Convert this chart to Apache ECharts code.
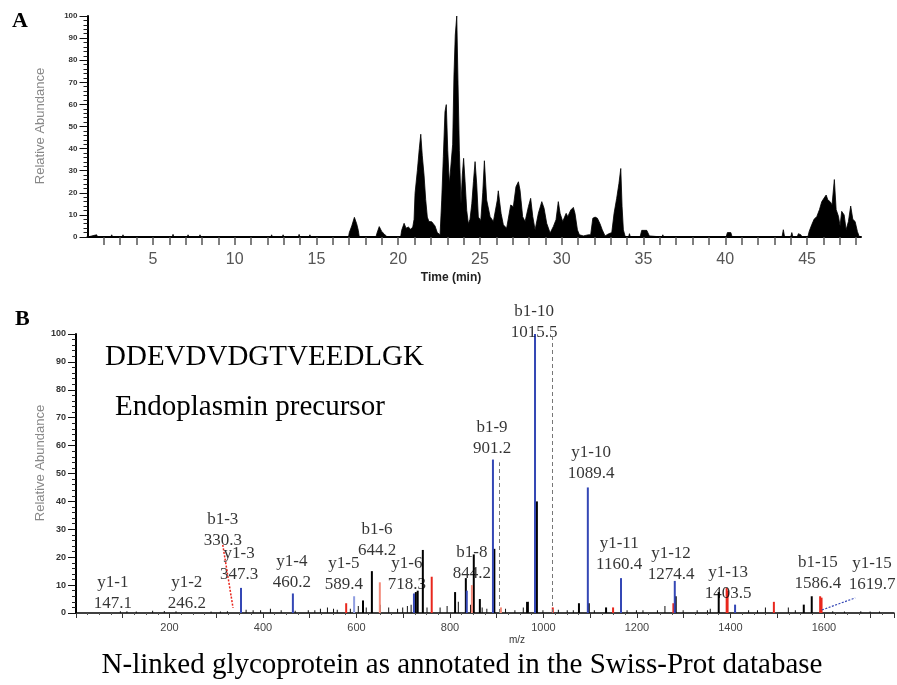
<!DOCTYPE html>
<html lang="en">
<head>
  <meta charset="UTF-8">
  <title>Chromatogram and MS/MS spectrum</title>
  <style>
    * { margin: 0; padding: 0; box-sizing: border-box; }
    body { background: #fff; }
    #main { width: 897px; height: 685px; }
  </style>
</head>
<body>
  <div id="main"></div>
  <script src="https://cdn.jsdelivr.net/npm/echarts@6/dist/echarts.min.js"></script>
  <script>
    // ---- Panel A: base peak chromatogram, [time (min), relative abundance] ----
    const chromatogram = [
      [1.0, 0], [1.56, 1], [1.62, 0], [2.42, 0], [2.48, 1], [2.54, 0], [3.12, 0], [3.17, 1], [3.22, 0],
      [6.18, 0], [6.23, 1.2], [6.28, 0], [7.1, 0], [7.15, 1], [7.2, 0], [7.83, 0], [7.88, 1], [7.93, 0],
      [9.22, 0], [9.27, 0.8], [9.32, 0], [10.22, 0], [10.27, 0.8], [10.32, 0], [10.87, 0], [10.92, 0.8], [10.97, 0],
      [12.21, 0], [12.26, 1], [12.31, 0], [12.91, 0], [12.96, 1], [13.01, 0], [13.89, 0], [13.94, 1.2], [13.99, 0],
      [14.55, 0], [14.6, 1], [14.65, 0],
      [16.96, 0], [17.01, 2], [17.16, 5], [17.32, 8.9], [17.46, 6], [17.56, 3], [17.62, 0],
      [18.64, 0], [18.69, 1.5], [18.84, 4.7], [18.99, 2.5], [19.13, 1.5], [19.25, 0.8], [19.33, 0],
      [20.15, 0], [20.21, 3], [20.36, 6.2], [20.48, 4], [20.62, 4.5], [20.76, 3.5], [20.89, 4.5], [20.97, 8],
      [21.03, 19.8], [21.17, 30], [21.29, 40], [21.38, 46.5], [21.47, 37], [21.58, 28], [21.68, 17], [21.78, 9],
      [21.88, 7], [22.05, 6.9], [22.25, 5], [22.39, 2], [22.56, 1],
      [22.66, 16.7], [22.76, 36.3], [22.86, 56.7], [22.94, 59.9], [23.03, 39], [23.13, 24], [23.23, 24],
      [23.33, 42], [23.41, 73.3], [23.49, 91.4], [23.58, 100], [23.66, 68.8], [23.74, 39], [23.84, 15],
      [23.92, 28], [24.0, 35.6], [24.09, 25], [24.19, 12], [24.29, 6], [24.39, 8],
      [24.5, 15], [24.6, 25], [24.7, 34.1], [24.8, 24], [24.9, 9], [25.05, 7.5],
      [25.17, 20], [25.27, 34.5], [25.41, 16.7], [25.62, 9.2], [25.82, 7],
      [26.06, 16.7], [26.12, 20.9], [26.29, 10.7], [26.43, 5.5], [26.63, 4],
      [26.88, 14.5], [27.04, 13.7], [27.2, 22.7], [27.35, 25], [27.45, 21.2], [27.61, 9.2], [27.76, 7],
      [27.96, 13.7], [28.1, 17.5], [28.23, 9.2], [28.37, 3.2],
      [28.57, 10.7], [28.78, 16], [28.92, 13], [29.08, 6.2], [29.29, 1.8],
      [29.49, 4.8], [29.65, 7.8], [29.79, 16], [29.9, 10.7], [30.06, 7],
      [30.27, 10.7], [30.37, 9.2], [30.55, 12.2], [30.71, 13.4], [30.81, 10.7], [30.96, 3.2], [31.08, 1],
      [31.32, 0.5], [31.63, 1], [31.77, 1], [31.9, 8.5], [32.04, 9], [32.18, 8.5], [32.34, 6], [32.48, 3.2],
      [32.65, 0.5], [32.85, 1.4], [33.06, 2], [33.2, 10.7], [33.36, 17.5], [33.5, 24.3], [33.61, 31],
      [33.69, 13.7], [33.77, 3.2], [33.89, 0], [34.09, 0], [34.14, 1.5], [34.2, 0],
      [34.79, 0], [34.89, 3], [35.03, 3], [35.2, 3], [35.36, 0.5], [35.45, 0],
      [36.12, 0], [36.18, 1], [36.24, 0],
      [40.05, 0], [40.13, 2], [40.34, 2], [40.42, 0], [41.7, 0], [41.76, 0.7], [41.82, 0],
      [43.47, 0], [43.55, 3.3], [43.63, 0], [44.0, 0], [44.07, 2], [44.14, 0],
      [44.4, 0], [44.47, 1.5], [44.62, 1], [44.7, 0],
      [45.05, 0], [45.13, 2.5], [45.29, 5.6], [45.43, 8], [45.6, 9.3], [45.76, 12.4], [45.9, 16],
      [46.04, 17.6], [46.17, 19], [46.27, 16.8], [46.41, 16], [46.53, 14.6], [46.67, 26], [46.78, 12.4],
      [46.92, 9.4], [47.02, 5], [47.12, 11.6], [47.27, 10], [47.39, 3.3], [47.53, 7], [47.67, 14],
      [47.8, 8], [47.94, 7], [48.08, 2.5], [48.2, 0], [48.3, 0]
    ];
    const timeLabels = [5, 10, 15, 20, 25, 30, 35, 40, 45];

    // ---- Panel B: MS/MS spectrum, [m/z, relative abundance] by colour ----
    const blueIons = [[353, 9], [464, 7], [723, 7], [836, 8], [892, 55], [982, 100], [1095, 45], [1166, 12.5], [1281, 11.5], [1410, 3]];
    const lightBlueIons = [[595, 6]];
    const redIons = [[578, 3.5], [761, 13], [1020, 2], [1149, 2], [1278, 3.5], [1392, 9], [1394, 8], [1493, 4], [1592, 6], [1595, 5.5]];
    const salmonIons = [[650, 11], [847, 10], [909, 2]];
    const blackIons = [
      [614, 4.5], [633, 15], [727, 7.5], [731, 8], [742, 22.6], [811, 7.5], [834, 12.5], [851, 21], [864, 5],
      [895, 23], [965, 4], [986, 40], [1076, 3.5], [1097, 3.5], [1134, 2], [1283, 6], [1375, 7.5], [1557, 3], [1574, 6]
    ];
    const noiseIons = [
      [96, 0.6], [110, 0.6], [130, 0.5], [165, 0.8], [190, 0.7], [215, 0.6], [290, 0.5], [310, 0.5], [325, 0.6],
      [365, 1.2], [380, 1], [396, 1], [417, 1.5], [440, 1], [470, 0.8], [498, 1], [512, 1], [524, 1.5], [539, 2],
      [552, 1.5], [560, 1.2], [588, 1.5], [605, 2.5], [622, 2], [652, 3], [670, 2], [689, 1.5], [700, 2], [710, 2.5],
      [718, 3], [752, 2], [780, 2], [795, 2.5], [819, 4], [845, 3], [870, 2], [880, 1.5], [920, 1.5], [940, 1],
      [958, 2], [969, 4], [1000, 1], [1033, 1.2], [1052, 1], [1065, 1], [1110, 1], [1180, 1], [1200, 1], [1214, 1],
      [1245, 1], [1261, 2.5], [1300, 1], [1330, 1], [1352, 1], [1358, 1.5], [1440, 1], [1459, 1], [1476, 2],
      [1525, 2], [1540, 1], [1620, 0.6], [1645, 0.5], [1680, 0.6], [1700, 0.5], [1720, 0.5]
    ];
    // fragment annotations: [label, m/z of label centre, abundance of label centre]
    const fragmentLabels = [
      ['y1-1\n147.1', 79, 7], ['y1-2\n246.2', 237, 7], ['b1-3\n330.3', 314, 29.7], ['y1-3\n347.3', 349, 17.7],
      ['y1-4\n460.2', 462, 14.7], ['y1-5\n589.4', 573, 14], ['b1-6\n644.2', 644, 26], ['y1-6\n718.3', 708, 14],
      ['b1-8\n844.2', 847, 17.9], ['b1-9\n901.2', 890, 62.7], ['b1-10\n1015.5', 980, 104.3], ['y1-10\n1089.4', 1102, 53.8],
      ['y1-11\n1160.4', 1162, 21.3], ['y1-12\n1274.4', 1273, 17.6], ['y1-13\n1403.5', 1395, 10.6],
      ['b1-15\n1586.4', 1587, 14.3], ['y1-15\n1619.7', 1703, 14]
    ];
    const theoreticalLines = [[905, 54], [1018, 100]];
    const mzLabels = [200, 400, 600, 800, 1000, 1200, 1400, 1600];

    const chart = echarts.init(document.getElementById('main'));
    const sans = 'Liberation Sans, Arial, sans-serif';
    const serif = 'Liberation Serif, Times New Roman, serif';

    function yAxisCfg(gridIndex, labelSize) {
      return {
        gridIndex, type: 'value', min: 0, max: 100, interval: 10,
        axisLine: { show: true, lineStyle: { color: '#000', width: 2 } },
        axisTick: { show: true, length: 8, lineStyle: { color: '#111', width: 1 } },
        minorTick: { show: true, splitNumber: 5, length: 4, lineStyle: { color: '#222', width: 1 } },
        splitLine: { show: false },
        axisLabel: { fontSize: labelSize, fontWeight: 'bold', color: '#333', fontFamily: sans, margin: 10 }
      };
    }

    function sticks(data, color, width) {
      return {
        type: 'bar', xAxisIndex: 1, yAxisIndex: 1, data,
        barWidth: width, barGap: '-100%', itemStyle: { color }, silent: true
      };
    }

    chart.setOption({
      animation: false,
      grid: [
        { left: 87.5, right: 36, top: 16, height: 221, containLabel: false, outerBoundsMode: 'none' },
        { left: 76, right: 3, top: 334, height: 279, containLabel: false, outerBoundsMode: 'none' }
      ],
      xAxis: [
        {
          gridIndex: 0, type: 'value', min: 1, max: 48.3, interval: 1,
          axisLine: { lineStyle: { color: '#000', width: 2 } },
          axisTick: { length: 8, lineStyle: { color: '#555', width: 1.5 } },
          splitLine: { show: false },
          axisLabel: {
            fontSize: 16, color: '#555', fontFamily: sans, margin: 15,
            showMinLabel: false, showMaxLabel: false,
            formatter: v => timeLabels.includes(v) ? String(v) : ''
          }
        },
        {
          gridIndex: 1, type: 'value', min: 0, max: 1750, interval: 100,
          axisLine: { lineStyle: { color: '#000', width: 1.5 } },
          axisTick: { length: 5, lineStyle: { color: '#333', width: 1 } },
          minorTick: { show: true, splitNumber: 4, length: 2, lineStyle: { color: '#555' } },
          splitLine: { show: false },
          axisLabel: {
            fontSize: 11, color: '#444', fontFamily: sans, margin: 9,
            showMaxLabel: false,
            formatter: v => mzLabels.includes(v) ? String(v) : ''
          }
        }
      ],
      yAxis: [yAxisCfg(0, 8), yAxisCfg(1, 9)],
      series: [
        {
          type: 'line', xAxisIndex: 0, yAxisIndex: 0, data: chromatogram,
          showSymbol: false, symbol: 'none', silent: true,
          lineStyle: { color: '#000', width: 0.8 },
          areaStyle: { color: '#000', opacity: 1 }
        },
        sticks(noiseIons, '#111', 1),
        sticks(blackIons, '#000', 2),
        sticks(salmonIons, '#f28a7a', 2),
        sticks(redIons, '#e8271d', 2),
        sticks(lightBlueIons, '#8f9de0', 2),
        Object.assign(sticks(blueIons, '#3447b5', 2), {
          markLine: {
            silent: true, symbol: 'none', label: { show: false },
            data: [
              ...theoreticalLines.map(([mz, h]) => [
                { coord: [mz, 0], lineStyle: { color: '#777', type: [4, 3], width: 1 } },
                { coord: [mz, h] }
              ]),
              [{ coord: [314, 24.4], lineStyle: { color: '#e8271d', type: [2, 1.5], width: 1.5 } }, { coord: [336, 1.8] }],
              [{ coord: [1596, 1.1], lineStyle: { color: '#3447b5', type: [2, 1.5], width: 1.2 } }, { coord: [1667, 5.4] }]
            ]
          }
        }),
        {
          type: 'scatter', xAxisIndex: 1, yAxisIndex: 1, clip: false, silent: true,
          symbolSize: 1, itemStyle: { color: 'rgba(0,0,0,0)' },
          data: fragmentLabels.map(([text, mz, h]) => ({ value: [mz, h], name: text })),
          label: {
            show: true, position: 'inside', formatter: p => p.name,
            fontFamily: serif, fontSize: 17, lineHeight: 21, color: '#000'
          }
        }
      ],
      graphic: [
        { type: 'text', x: 12, y: 10, style: { text: 'A', font: 'bold 22px ' + serif, fill: '#000' } },
        { type: 'text', x: 15, y: 308, style: { text: 'B', font: 'bold 22px ' + serif, fill: '#000' } },
        { type: 'text', x: 40, y: 126, rotation: Math.PI / 2,
          style: { text: 'Relative Abundance', font: '13px ' + sans, fill: '#888', textAlign: 'center', textVerticalAlign: 'middle' } },
        { type: 'text', x: 40, y: 463, rotation: Math.PI / 2,
          style: { text: 'Relative Abundance', font: '13px ' + sans, fill: '#888', textAlign: 'center', textVerticalAlign: 'middle' } },
        { type: 'text', x: 451, y: 278,
          style: { text: 'Time (min)', font: 'bold 12px ' + sans, fill: '#222', textAlign: 'center', textVerticalAlign: 'middle' } },
        { type: 'text', x: 517, y: 640,
          style: { text: 'm/z', font: '10px ' + sans, fill: '#333', textAlign: 'center', textVerticalAlign: 'middle' } },
        { type: 'text', x: 105, y: 357,
          style: { text: 'DDEVDVDGTVEEDLGK', font: '29px ' + serif, fill: '#000', textVerticalAlign: 'middle' } },
        { type: 'text', x: 115, y: 407,
          style: { text: 'Endoplasmin precursor', font: '29px ' + serif, fill: '#000', textVerticalAlign: 'middle' } },
        { type: 'text', x: 462, y: 665,
          style: { text: 'N-linked glycoprotein as annotated in the Swiss-Prot database', font: '29px ' + serif, fill: '#000', textAlign: 'center', textVerticalAlign: 'middle' } }
      ]
    });

    window.addEventListener('resize', () => chart.resize());
  </script>
</body>
</html>
